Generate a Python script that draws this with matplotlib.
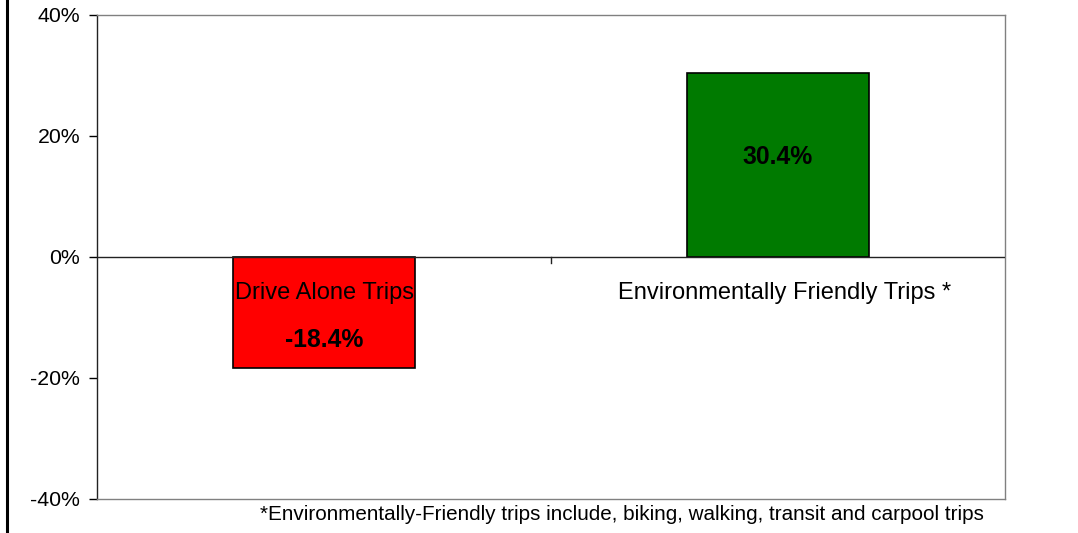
import matplotlib
matplotlib.use("Agg")
import matplotlib.pyplot as plt
from matplotlib.lines import Line2D
import numpy as np

plt.rcParams['font.family'] = ['Liberation Sans', 'DejaVu Sans']

# data
categories = ['Drive Alone Trips', 'Environmentally Friendly Trips *']
changes = [-18.4, 30.4]
bar_colors = ['#FF0000', '#007A00']
yticks = [-40, -20, 0, 20, 40]
footnote = '*Environmentally-Friendly trips include, biking, walking, transit and carpool trips'

fig = plt.figure(figsize=(10.78, 5.33), dpi=100)
ax = fig.add_axes([0.09, 0.0638, 0.8423, 0.9081])

x = np.arange(len(categories))
ax.bar(x, changes, width=0.4, color=bar_colors, edgecolor='black', linewidth=1.2, zorder=2)

ax.set_xlim(-0.5, len(categories) - 0.5)
ax.set_ylim(-40, 40)
ax.set_yticks(yticks)
ax.set_yticklabels(['%d%%' % v for v in yticks], fontsize=15.3)
ax.tick_params(axis='y', direction='out', length=6, width=1, color='black', pad=6)
ax.set_xticks([])

for side in ['top', 'right', 'bottom']:
    ax.spines[side].set_color('#808080')
    ax.spines[side].set_linewidth(1)
ax.spines['left'].set_color('#222222')
ax.spines['left'].set_linewidth(1)

# zero line with divider tick
ax.axhline(0, color='#222222', linewidth=1, zorder=3)
for b in np.arange(-0.5, len(categories) + 0.5, 1.0)[1:-1]:
    ax.plot([b, b], [0, -1.0], color='#222222', linewidth=1, zorder=3)

# category labels just under the zero line
for xi, name in zip(x, categories):
    off = 0.015 if name.endswith('*') else 0
    ax.text(xi + off, -5.9, name, ha='center', va='center', fontsize=17, zorder=4)

# value labels
for xi, v in zip(x, changes):
    ypos = -13.8 if v < 0 else 16.5
    ax.text(xi, ypos, '%.1f%%' % v, ha='center', va='center',
            fontsize=17.8, fontweight='bold', zorder=4)

fig.text(0.577, 0.034, footnote, ha='center', va='center', fontsize=14.9)
fig.add_artist(Line2D([0.0065, 0.0065], [0, 1], color='black', linewidth=2.2, transform=fig.transFigure))

fig.savefig('out.png', dpi=100)
